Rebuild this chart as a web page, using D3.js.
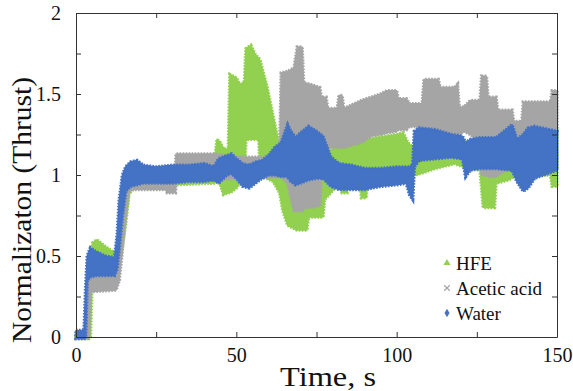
<!DOCTYPE html>
<html>
<head>
<meta charset="utf-8">
<script src="https://cdn.jsdelivr.net/npm/d3@7"></script>
<style>
  body { margin: 0; background: #fff; }
  svg { display: block; }
  .axis path, .axis line { stroke: #333; }
</style>
</head>
<body>
<svg id="chart"></svg>
<script>
// envelopes (min / max of the oscillating signal)
const hfeTime = [0, 4, 4.5, 5.2, 6.5, 9, 12, 13, 14, 15.5, 16.5, 18, 43, 44, 45, 46, 47.5, 48, 50, 51, 52.5, 53, 54.5, 56, 57, 57.5, 59.5, 61.5, 63.5, 64.5, 66, 69, 72, 72.5, 77, 77.5, 79, 82, 83, 84.5, 85, 88.5, 89, 90.5, 91, 100, 102, 103.5, 106, 112, 118, 121, 126, 127, 130.5, 131, 135, 137, 140, 145, 148, 148.5, 150]
const hfeLow = [-0.01, -0.01, 0, 0.45, 0.46, 0.44, 0.42, 0.42, 0.5, 0.7, 0.88, 0.93, 0.95, 0.96, 0.94, 0.88, 0.89, 0.89, 0.92, 0.95, 0.98, 1.22, 1.22, 1.22, 1.22, 1.0, 0.98, 0.96, 0.89, 0.78, 0.69, 0.66, 0.66, 0.74, 0.74, 0.85, 0.88, 0.95, 0.89, 0.89, 0.98, 0.98, 0.86, 0.86, 0.98, 1.0, 1.02, 1.02, 1.0, 1.04, 1.07, 1.05, 1.03, 0.8, 0.8, 0.95, 0.97, 1.0, 1.0, 1.0, 1.0, 0.93, 0.93]
const hfeHigh = [0.01, 0.01, 0.45, 0.58, 0.6, 0.56, 0.52, 0.55, 0.7, 0.92, 1.0, 1.04, 1.06, 1.22, 1.2, 1.16, 1.16, 1.62, 1.6, 1.56, 1.57, 1.78, 1.8, 1.74, 1.72, 1.7, 1.55, 1.36, 1.17, 1.1, 1.1, 1.1, 1.1, 1.1, 1.1, 1.12, 1.15, 1.18, 1.19, 1.19, 1.19, 1.2, 1.21, 1.21, 1.22, 1.25, 1.26, 1.2, 1.15, 1.2, 1.2, 1.2, 1.22, 1.22, 1.22, 1.22, 1.24, 1.32, 1.32, 1.32, 1.32, 1.3, 1.3]

const acidTime = [0, 3.5, 4, 4.5, 12.5, 13.5, 14.5, 15.5, 16.5, 18, 28, 28.5, 31, 31.2, 43, 50, 57, 63.5, 64, 66, 68, 69, 70.5, 71, 73, 76, 76.5, 78, 78.5, 81.5, 82, 83, 83.5, 89, 92, 95, 97, 100, 100.5, 103, 104, 106, 108, 108.5, 113, 113.5, 118, 119, 119.5, 121, 123, 126, 126.5, 128, 128.5, 131, 131.5, 136, 136.5, 139, 139.5, 148, 148.5, 150]
const acidLow = [-0.01, -0.01, 0, 0.28, 0.29, 0.35, 0.55, 0.75, 0.9, 0.91, 0.91, 0.89, 0.89, 0.96, 0.97, 0.98, 0.98, 0.99, 0.99, 0.95, 0.78, 0.78, 0.78, 0.8, 0.8, 0.81, 0.98, 1.05, 1.17, 1.17, 1.17, 1.17, 1.17, 1.2, 1.24, 1.25, 1.26, 1.27, 1.28, 1.28, 1.3, 1.3, 1.28, 1.26, 1.26, 1.25, 1.25, 1.25, 1.25, 1.27, 1.25, 1.2, 1.0, 1.0, 0.99, 0.99, 1.0, 1.05, 1.2, 1.22, 1.22, 1.24, 1.25, 1.25]
const acidHigh = [0.02, 0.02, 0.35, 0.42, 0.4, 0.55, 0.8, 0.95, 1.02, 1.03, 1.03, 1.03, 1.03, 1.13, 1.13, 1.11, 1.11, 1.11, 1.63, 1.64, 1.66, 1.79, 1.79, 1.57, 1.56, 1.54, 1.48, 1.48, 1.41, 1.41, 1.49, 1.49, 1.41, 1.46, 1.48, 1.5, 1.52, 1.52, 1.47, 1.47, 1.44, 1.44, 1.44, 1.59, 1.59, 1.54, 1.54, 1.56, 1.42, 1.42, 1.46, 1.46, 1.61, 1.61, 1.48, 1.48, 1.4, 1.4, 1.33, 1.33, 1.45, 1.45, 1.52, 1.52]

const waterTime = [0, 2.5, 3, 3.5, 4.5, 6, 9, 12, 12.8, 13.5, 14.5, 15.5, 17, 19, 21, 25, 30, 35, 40, 43, 44.5, 47, 48.5, 50, 52, 54, 56, 58, 60, 62, 64, 66, 67, 68.5, 70, 72.5, 75, 77, 79.5, 82, 86, 90, 95, 100, 103, 104, 105, 105.5, 107, 112, 117, 120.5, 121.5, 123, 126, 131, 136, 137.5, 139.5, 141, 143, 150]
const waterLow = [-0.01, -0.01, 0, 0.35, 0.37, 0.38, 0.38, 0.38, 0.42, 0.55, 0.75, 0.9, 0.93, 0.94, 0.95, 0.95, 0.95, 0.96, 0.96, 0.97, 0.95, 1.0, 1.01, 0.98, 0.93, 0.92, 0.95, 0.98, 1.0, 1.0, 0.99, 0.99, 0.96, 0.94, 0.95, 0.97, 0.98, 0.98, 0.93, 0.91, 0.91, 0.91, 0.93, 0.94, 0.95, 0.88, 0.85, 1.05, 1.09, 1.1, 1.11, 1.1, 0.99, 1.03, 1.04, 1.04, 1.03, 0.96, 0.9, 0.92, 0.98, 1.03]
const waterHigh = [0.04, 0.04, 0.3, 0.5, 0.55, 0.53, 0.5, 0.49, 0.62, 0.85, 1.0, 1.05, 1.08, 1.09, 1.06, 1.05, 1.06, 1.06, 1.07, 1.05, 1.1, 1.12, 1.13, 1.1, 1.07, 1.06, 1.08, 1.09, 1.12, 1.17, 1.2, 1.31, 1.27, 1.23, 1.26, 1.3, 1.27, 1.24, 1.11, 1.07, 1.06, 1.04, 1.04, 1.05, 1.05, 1.05, 1.06, 1.27, 1.29, 1.28, 1.25, 1.24, 1.2, 1.22, 1.23, 1.23, 1.31, 1.22, 1.25, 1.29, 1.3, 1.27]

const seriesNames = ['HFE', 'Acetic acid', 'Water']
const seriesColors = ['#92D050', '#A5A5A5', '#4472C4']
const xTicks = [0, 50, 100, 150]
const yTicks = [0, 0.5, 1, 1.5, 2]

const FONT = "'Liberation Serif', 'Times New Roman', serif"
const WIDTH = 573
const HEIGHT = 391
const M = { left: 76, top: 13, right: 16, bottom: 54 }

const svg = d3.select('#chart').attr('width', WIDTH).attr('height', HEIGHT)

const x = d3.scaleLinear().domain([0, 150]).range([M.left, WIDTH - M.right])
const y = d3.scaleLinear().domain([0, 2]).range([HEIGHT - M.bottom, M.top])

function rows(time, low, high) {
  return time.map((t, i) => ({ t, lo: low[i], hi: high[i] }))
}

const series = [
  rows(hfeTime, hfeLow, hfeHigh),
  rows(acidTime, acidLow, acidHigh),
  rows(waterTime, waterLow, waterHigh)
]

const band = d3.area()
  .x(d => x(d.t))
  .y0(d => y(d.lo))
  .y1(d => y(d.hi))

const plot = svg.append('g')

// filled envelope, then a dashed outline of the same colour so the edge
// looks toothed like the dense marker cloud of the original
series.forEach((s, i) => {
  plot.append('path')
    .datum(s)
    .attr('d', band)
    .attr('fill', seriesColors[i])
    .attr('stroke', seriesColors[i])
    .attr('stroke-width', 1.5)
    .attr('stroke-linejoin', 'round')
  plot.append('path')
    .datum(s)
    .attr('d', band)
    .attr('fill', 'none')
    .attr('stroke', seriesColors[i])
    .attr('stroke-width', 3.5)
    .attr('stroke-dasharray', '1.6 1.4')
})

// axes: labelled bottom/left, mirrored ticks on top/right, all pointing inward
const minorX = d3.range(0, 151, 25)
const minorY = d3.range(0, 2.01, 0.25)

function styleTicks(g) {
  g.selectAll('text')
    .style('font-family', FONT)
    .style('font-size', '20px')
    .attr('fill', '#111')
}

svg.append('g')
  .attr('class', 'axis')
  .attr('transform', `translate(0, ${y(0)})`)
  .call(d3.axisBottom(x).tickValues(minorX).tickSizeInner(-5).tickSizeOuter(0)
    .tickFormat(d => xTicks.includes(d) ? d : ''))
  .call(styleTicks)
  .call(g => g.selectAll('text').attr('y', 8).attr('dy', '0.85em'))

svg.append('g')
  .attr('class', 'axis')
  .attr('transform', `translate(0, ${y(2)})`)
  .call(d3.axisTop(x).tickValues(minorX).tickSizeInner(-5).tickSizeOuter(0).tickFormat(''))

svg.append('g')
  .attr('class', 'axis')
  .attr('transform', `translate(${x(0)}, 0)`)
  .call(d3.axisLeft(y).tickValues(minorY).tickSizeInner(-5).tickSizeOuter(0)
    .tickFormat(d => yTicks.includes(d) ? d : ''))
  .call(styleTicks)
  .call(g => g.selectAll('text').attr('x', -15))

svg.append('g')
  .attr('class', 'axis')
  .attr('transform', `translate(${x(150)}, 0)`)
  .call(d3.axisRight(y).tickValues(minorY).tickSizeInner(-5).tickSizeOuter(0).tickFormat(''))

svg.append('text')
  .attr('x', 328)
  .attr('y', 386)
  .attr('text-anchor', 'middle')
  .attr('textLength', 96)
  .attr('lengthAdjust', 'spacingAndGlyphs')
  .style('font-family', FONT)
  .style('font-size', '27px')
  .attr('fill', '#111')
  .text('Time, s')

svg.append('text')
  .attr('transform', 'translate(31, 210) rotate(-90)')
  .attr('text-anchor', 'middle')
  .attr('textLength', 266)
  .attr('lengthAdjust', 'spacingAndGlyphs')
  .style('font-family', FONT)
  .style('font-size', '27px')
  .attr('fill', '#111')
  .text('Normalizaton (Thrust)')

// legend
const legend = svg.append('g').attr('transform', 'translate(447, 263)')
const symbols = [d3.symbolTriangle, d3.symbolX, d3.symbolDiamond]

seriesNames.forEach((name, i) => {
  const row = legend.append('g').attr('transform', `translate(0, ${i * 25})`)
  row.append('path')
    .attr('d', d3.symbol(symbols[i], 22))
    .attr('fill', seriesColors[i])
    .attr('stroke', i === 1 ? seriesColors[i] : 'none')
    .attr('stroke-width', 1.2)
  row.append('text')
    .attr('x', 9)
    .attr('dy', '0.35em')
    .style('font-family', FONT)
    .style('font-size', '19px')
    .attr('fill', '#111')
    .text(name)
})
</script>
</body>
</html>
